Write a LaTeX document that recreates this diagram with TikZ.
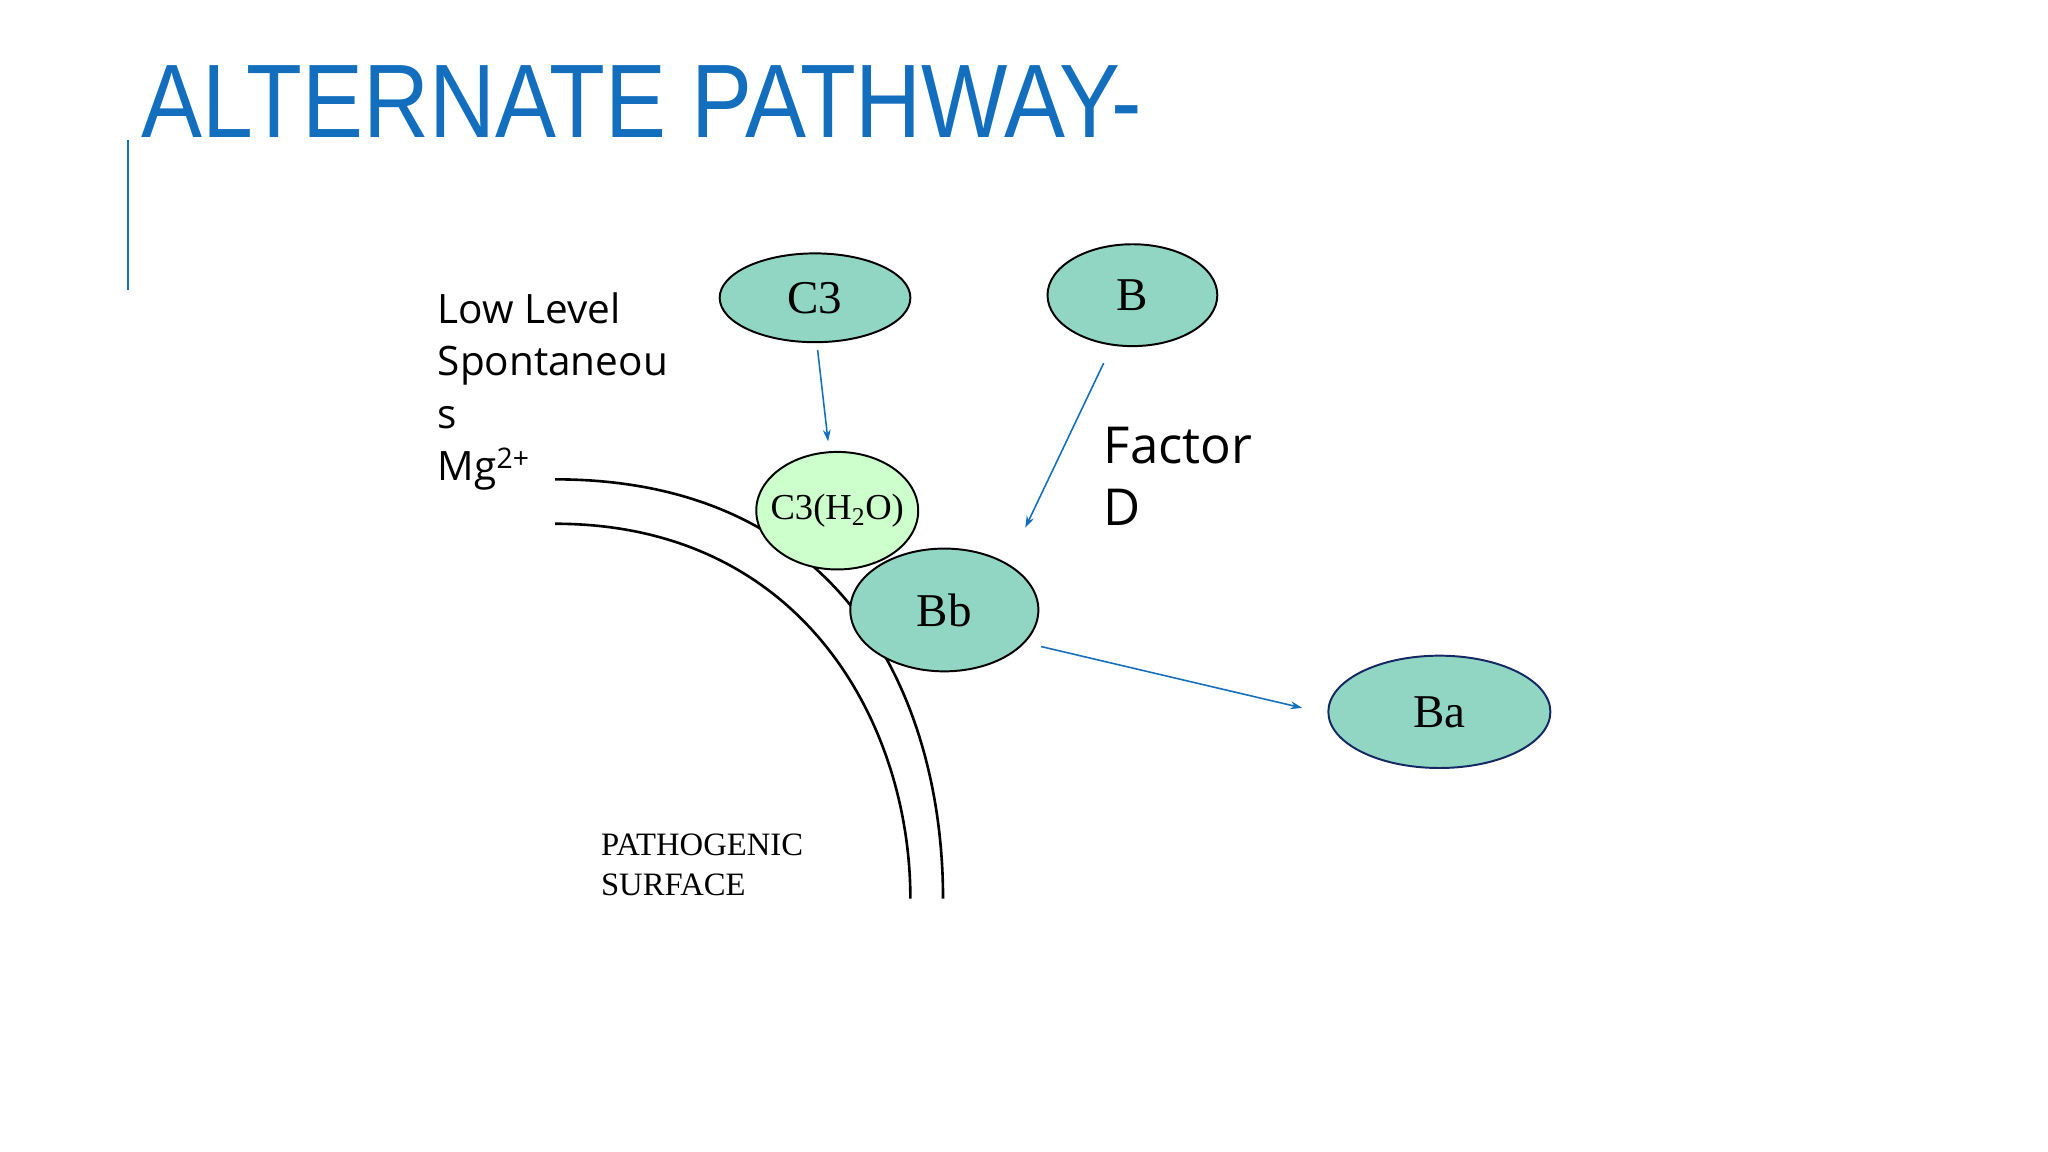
\documentclass[tikz,border=0pt]{standalone}
\usepackage{fontspec}
\setmainfont{Liberation Serif}
\newfontfamily\osans{Open Sans}
\newfontfamily\tsans{Liberation Sans}
\usetikzlibrary{arrows.meta,shapes.geometric}
\definecolor{tblue}{RGB}{20,110,190}
\definecolor{teal}{RGB}{145,214,194}
\definecolor{lgreen}{RGB}{204,255,204}
\definecolor{dblue}{RGB}{20,40,100}
\tikzset{
  cell/.style={ellipse,draw=black,line width=1.5pt,fill=teal,inner sep=0pt,font=\fontsize{36}{40}\selectfont},
  arr/.style={draw=tblue,line width=1.2pt,-{Stealth[length=9pt,width=6pt]}},
  mem/.style={line width=2pt}
}
\begin{document}
\begin{tikzpicture}[x=1pt,y=-1pt]
\useasboundingbox[fill=white] (0,0) rectangle (1568,882);
\node[anchor=base west,inner sep=0,text=tblue,xscale=0.875,transform shape,font=\tsans\fontsize{80}{80}\selectfont] (title) at (108,105) {ALTERNATE PATHWAY-};
\draw[tblue,line width=2pt] (98,107) -- (98,222);
\draw[mem] (425,367) .. controls (650,367) and (722,540) .. (722,688);
\draw[mem] (425,401) .. controls (615,401) and (697,555) .. (697,688);
\node[cell,minimum width=146pt,minimum height=68pt] (c3) at (624,228) {C3};
\node[cell,minimum width=130pt,minimum height=78pt] (b) at (867,226) {B};
\node[cell,fill=lgreen,inner xsep=-22pt,minimum width=124pt,minimum height=90pt,font=\fontsize{28}{32}\selectfont] (c3w) at (641,391) {C3(H\textsubscript{2}O)};
\node[cell,minimum width=144pt,minimum height=94pt] (bb) at (723,467) {Bb};
\node[cell,draw=dblue,minimum width=170pt,minimum height=86pt] (ba) at (1102,545) {Ba};
\coordinate (fd) at (785,404);
\draw[arr] (626,268) -- (634,338);
\draw[arr] (845,278) -- (fd);
\draw[arr] (797,495) -- (997,542);
\node[anchor=north west,align=left,inner sep=0,font=\osans\fontsize{31}{40}\selectfont] (low) at (335,224) {Low Level\\Spontaneou\\s\\Mg\textsuperscript{2+}};
\node[anchor=north west,align=left,inner sep=0,font=\osans\fontsize{39}{47}\selectfont] (fac) at (845,327) {Factor\\D};
\node[anchor=north west,align=left,inner sep=0,font=\fontsize{25}{31}\selectfont] (ps) at (460,638) {PATHOGENIC\\SURFACE};
\end{tikzpicture}
\end{document}
